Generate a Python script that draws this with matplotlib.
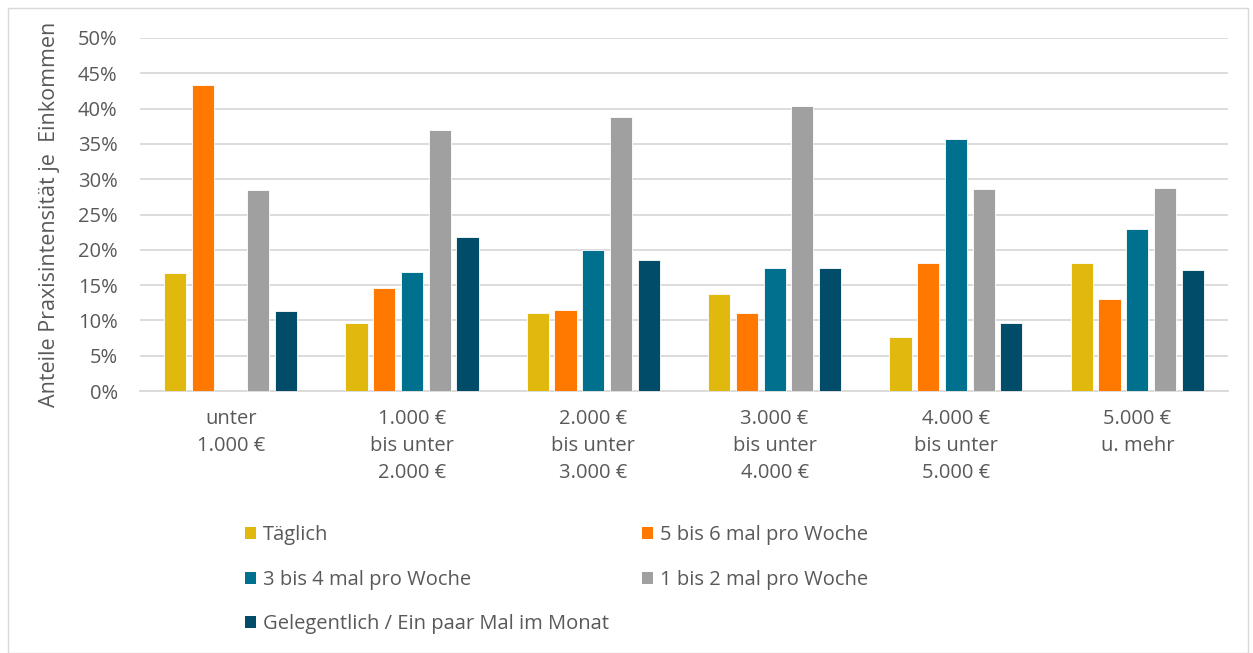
import numpy as np
import matplotlib
matplotlib.use("Agg")
import matplotlib.pyplot as plt
from matplotlib.patches import Rectangle, Patch
from matplotlib.ticker import PercentFormatter

plt.rcParams["font.family"] = ["Open Sans", "DejaVu Sans"]

CATEGORIES = ["unter\n1.000 €", "1.000 €\nbis unter\n2.000 €", "2.000 €\nbis unter\n3.000 €",
              "3.000 €\nbis unter\n4.000 €", "4.000 €\nbis unter\n5.000 €", "5.000 €\nu. mehr"]
SERIES = ["Täglich", "5 bis 6 mal pro Woche", "3 bis 4 mal pro Woche",
          "1 bis 2 mal pro Woche", "Gelegentlich / Ein paar Mal im Monat"]
COLORS = ["#E0B80E", "#FF7800", "#00708F", "#A0A0A0", "#004C69"]

taeglich   = [16.7, 9.7, 11.0, 13.7, 7.7, 18.1]
mal_5_6    = [43.4, 14.6, 11.5, 11.1, 18.2, 13.1]
mal_3_4    = [0.0, 16.9, 20.0, 17.4, 35.7, 23.0]
mal_1_2    = [28.5, 37.0, 38.8, 40.3, 28.6, 28.7]
gelegentl  = [11.4, 21.8, 18.6, 17.4, 9.7, 17.2]
VALUES = [taeglich, mal_5_6, mal_3_4, mal_1_2, gelegentl]

TEXT_COL = "#595959"

fig = plt.figure(figsize=(12.53, 6.53), dpi=100)
ax = fig.add_axes([0.1117, 0.401, 0.8683, 0.541])

x = np.arange(len(CATEGORIES))
step, width = 0.153, 0.122
for i, (vals, col) in enumerate(zip(VALUES, COLORS)):
    ax.bar(x + (i - 2) * step, vals, width=width, color=col,
           edgecolor="white", linewidth=0.6, zorder=3)

ax.set_xlim(-0.5, len(CATEGORIES) - 0.5)
ax.set_ylim(0, 50)
ax.set_yticks(np.arange(0, 51, 5))
ax.yaxis.set_major_formatter(PercentFormatter(decimals=0))
ax.set_xticks(x)
ax.set_xticklabels(CATEGORIES, linespacing=1.45)
ax.tick_params(axis="both", length=0, labelsize=14.5, colors=TEXT_COL)
ax.tick_params(axis="x", pad=13)
ax.tick_params(axis="y", pad=16)
ax.grid(axis="y", color="#D9D9D9", linewidth=1.3, zorder=0)
for s in ["top", "right", "left"]:
    ax.spines[s].set_visible(False)
ax.spines["bottom"].set_color("#D9D9D9")
ax.spines["bottom"].set_linewidth(1.3)

ax.set_ylabel("Anteile Praxisintensität je  Einkommen", fontsize=15.5,
              color=TEXT_COL, labelpad=13)

# legend: order so that column-wise fill reads row-wise
order = [0, 2, 4, 1, 3]
handles = [Patch(facecolor=COLORS[k], edgecolor="none") for k in order]
labels = [SERIES[k] for k in order]
fig.legend(handles, labels, ncol=2, loc="upper left",
           bbox_to_anchor=(0.189, 0.208), frameon=False, fontsize=14.5,
           labelcolor=TEXT_COL, handlelength=0.55, handleheight=0.55,
           handletextpad=0.35, labelspacing=1.22, columnspacing=1.65,
           borderaxespad=0)

fig.patches.append(Rectangle((8 / 1253, 0.0), 1240 / 1253, 645 / 653,
                             transform=fig.transFigure, fill=False,
                             edgecolor="#D9D9D9", linewidth=1.0))

fig.savefig("out.png", dpi=100, facecolor="white")
